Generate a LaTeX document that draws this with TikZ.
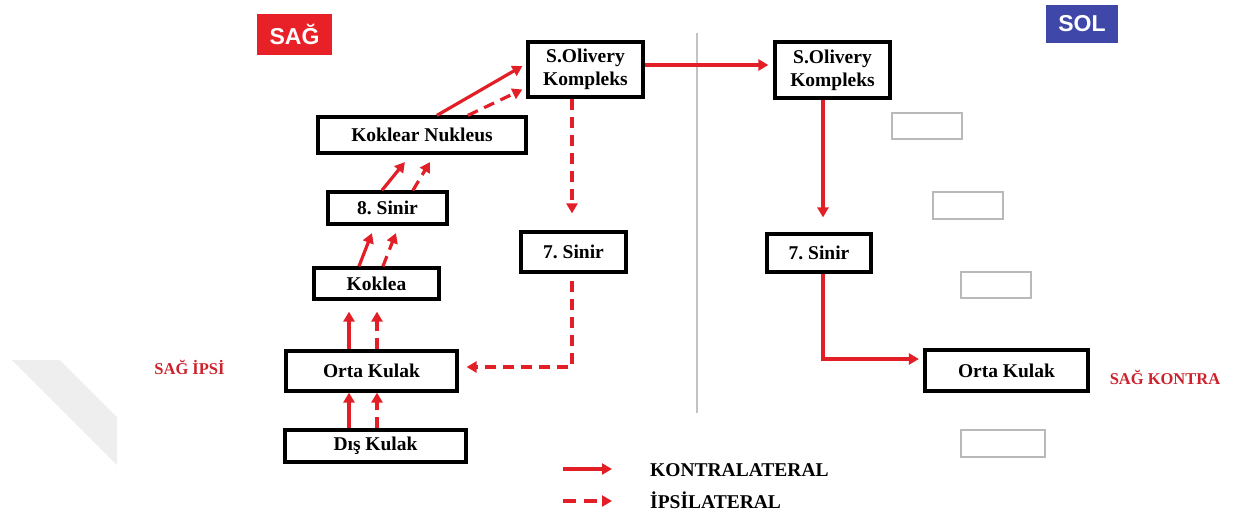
\documentclass[tikz,border=0pt]{standalone}
\usepackage{fontspec}
\setmainfont{Liberation Serif}
\newfontfamily\tagfont{Liberation Sans}
\usetikzlibrary{arrows.meta,calc}
\frenchspacing

\definecolor{arrowred}{RGB}{226,30,38}
\definecolor{tagred}{RGB}{232,32,40}
\definecolor{tagblue}{RGB}{63,72,168}
\definecolor{labelred}{RGB}{204,34,44}
\definecolor{framegray}{RGB}{185,185,185}
\definecolor{dividergray}{RGB}{195,195,195}
\definecolor{shadegray}{RGB}{238,238,238}

\begin{document}
\begin{tikzpicture}[x=1pt,y=-1pt,
  stage/.style={draw=black, line width=3.2pt, fill=white, inner sep=0pt,
    font=\fontsize{19.5}{23}\selectfont\bfseries, align=center},
  blank/.style={draw=framegray, line width=1.5pt, inner sep=0pt},
  tag/.style={inner sep=0pt, text=white, font=\tagfont\fontsize{23}{27}\selectfont\bfseries},
  side/.style={text=labelred, inner sep=0pt, font=\fontsize{16.5}{20}\selectfont\bfseries},
  legendtext/.style={anchor=west, inner sep=0pt, font=\fontsize{19.5}{23}\selectfont\bfseries},
  link/.style={draw=arrowred, line width=3.2pt, -{Triangle[length=10pt,width=11pt]}},
  ipsilink/.style={link, dash pattern=on 11pt off 7pt},
]
\useasboundingbox (0,0) rectangle (1237,519);

% faint band at the lower left
\fill[shadegray] (12,360) -- (60,360) -- (117,417) -- (117,465) -- cycle;

% divider between the two sides
\draw[dividergray, line width=1.6pt] (697,33) -- (697,413);

% side tags
\node[tag, fill=tagred, minimum width=75pt, minimum height=41pt] (sag) at (294.5,34.5) {SAĞ};
\node[tag, fill=tagblue, minimum width=72pt, minimum height=38pt] (sol) at (1082,24) {SOL};

% right-ear (ipsilateral) pathway
\node[stage, minimum width=115pt, minimum height=55pt] (soL) at (585.5,69.5) {S.Olivery\\Kompleks};
\node[stage, minimum width=208pt, minimum height=36pt] (kn) at (422,135) {Koklear Nukleus};
\node[stage, minimum width=119pt, minimum height=32pt] (s8) at (387.5,208) {8. Sinir};
\node[stage, minimum width=125pt, minimum height=31pt] (kok) at (376.5,283.5) {Koklea};
\node[stage, minimum width=171pt, minimum height=40pt] (okL) at (371.5,371) {Orta Kulak};
\node[stage, minimum width=181pt, minimum height=32pt] (dk) at (375.5,446) {Dış Kulak};
\node[stage, minimum width=105pt, minimum height=40pt] (s7L) at (573.5,252) {7. Sinir};

% left-ear (contralateral) pathway
\node[stage, minimum width=115pt, minimum height=56pt] (soR) at (832.5,70) {S.Olivery\\Kompleks};
\node[stage, minimum width=104pt, minimum height=38pt] (s7R) at (819,253) {7. Sinir};
\node[stage, minimum width=163pt, minimum height=41pt] (okR) at (1006.5,370.5) {Orta Kulak};

% empty frames
\node[blank, minimum width=70pt, minimum height=26pt] (g1) at (927,126) {};
\node[blank, minimum width=70pt, minimum height=27pt] (g2) at (968,205.5) {};
\node[blank, minimum width=70pt, minimum height=26pt] (g3) at (996,285) {};
\node[blank, minimum width=84pt, minimum height=27pt] (g4) at (1003,443.5) {};

% side labels
\node[side] (ipsiL) at (189.5,367) {SAĞ İPSİ};
\node[side] (kontraL) at (1165,377) {SAĞ KONTRA};

% column positions for the vertical links
\coordinate (xs) at (349,0);
\coordinate (xd) at (377,0);
\coordinate (xv) at (572,0);
\coordinate (xr) at (823,0);

% ascending links
\draw[link] (dk.north -| xs) -- (okL.south -| xs);
\draw[ipsilink] (dk.north -| xd) -- (okL.south -| xd);
\draw[link] (okL.north -| xs) -- ($(kok.south -| xs)+(0,11)$);
\draw[ipsilink] (okL.north -| xd) -- ($(kok.south -| xd)+(0,11)$);
\draw[link] ($(kok.north west)+(46.5,0)$) -- ($(s8.south west)+(45.5,7.5)$);
\draw[ipsilink] ($(kok.north west)+(70.5,0)$) -- ($(s8.south west)+(69.5,7.5)$);
\draw[link] ($(s8.north west)+(55.5,0)$) -- ($(kn.south west)+(88.5,7.5)$);
\draw[ipsilink] ($(s8.north west)+(86.5,0)$) -- ($(kn.south west)+(113.5,7.5)$);
\draw[link] ($(kn.north west)+(120.5,0)$) -- ($(soL.west)+(-4,-3.5)$);
\draw[ipsilink] ($(kn.north west)+(151.5,0)$) -- ($(soL.west)+(-4,20)$);

% ipsilateral reflex loop
\draw[ipsilink] (soL.south -| xv) -- ($(s7L.north -| xv)+(0,-17)$);
\draw[ipsilink] ($(s7L.south -| xv)+(0,7)$) |- ($(okL.east)+(8,-4)$);

% contralateral reflex loop
\draw[link] ($(soL.east)+(0,-4.5)$) -- ($(soR.west)+(-5,-5)$);
\draw[link] (soR.south -| xr) -- ($(s7R.north -| xr)+(0,-15)$);
\draw[link] (s7R.south -| xr) |- ($(okR.west)+(-4.5,-11.5)$);

% legend
\coordinate (k0) at (563,469);
\coordinate (k1) at (612,469);
\draw[link] (k0) -- (k1);
\node[legendtext] (legK) at (650,470) {KONTRALATERAL};
\coordinate (i0) at (563,501);
\coordinate (i1) at (612,501);
\draw[ipsilink, dash pattern=on 13pt off 8pt] (i0) -- (i1);
\node[legendtext] (legI) at (650,500) {İPSİLATERAL};
\end{tikzpicture}
\end{document}
